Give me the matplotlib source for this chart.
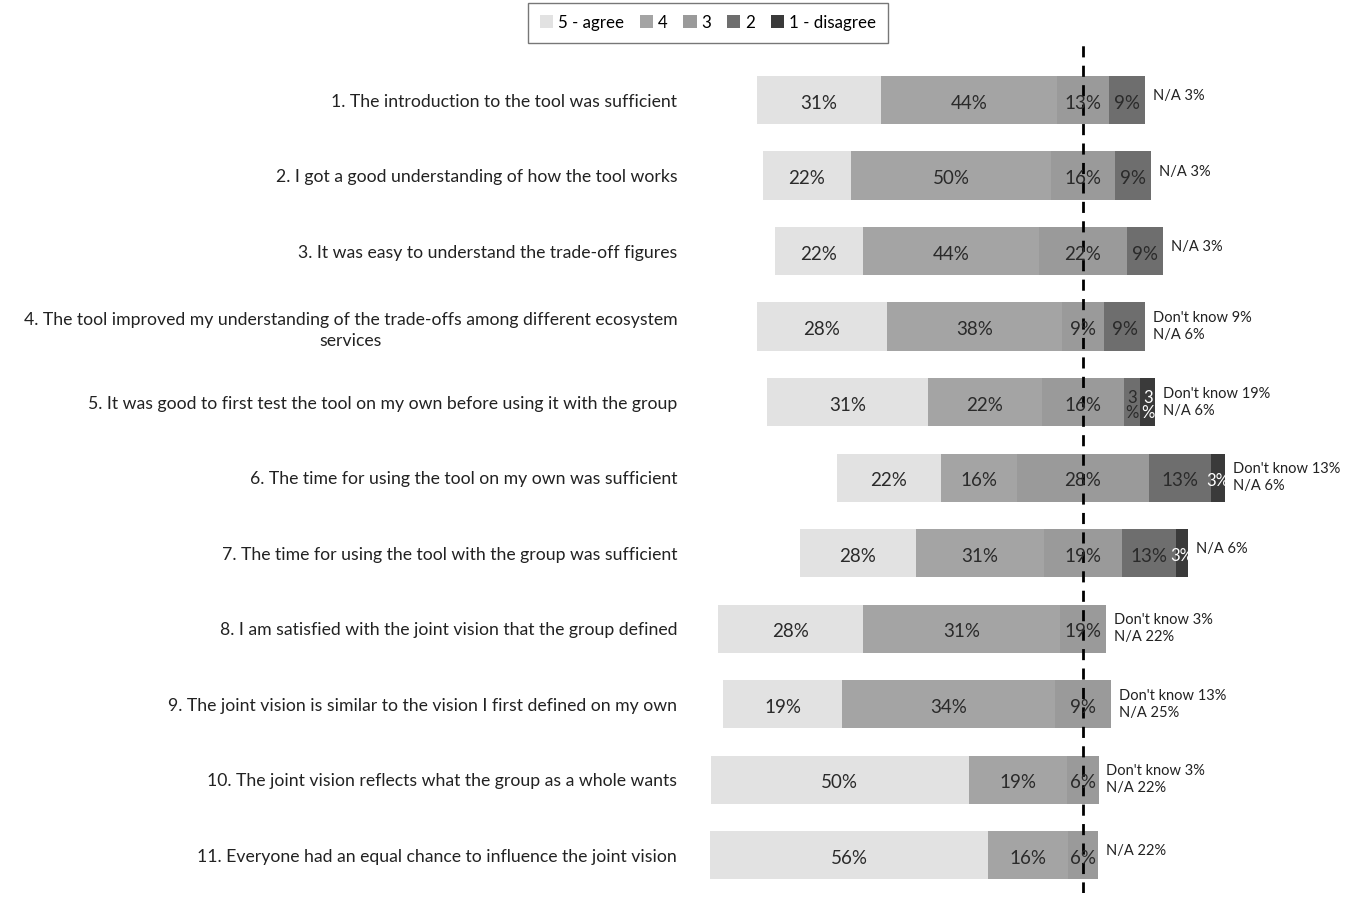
import numpy as np
import matplotlib
matplotlib.use("Agg")
import matplotlib.pyplot as plt
from matplotlib.patches import Patch

plt.rcParams['font.family'] = ['Lato', 'DejaVu Sans']

questions = [
    "1. The introduction to the tool was sufficient",
    "2. I got a good understanding of how the tool works",
    "3. It was easy to understand the trade-off figures",
    "4. The tool improved my understanding of the trade-offs among different ecosystem\nservices",
    "5. It was good to first test the tool on my own before using it with the group",
    "6. The time for using the tool on my own was sufficient",
    "7. The time for using the tool with the group was sufficient",
    "8. I am satisfied with the joint vision that the group defined",
    "9. The joint vision is similar to the vision I first defined on my own",
    "10. The joint vision reflects what the group as a whole wants",
    "11. Everyone had an equal chance to influence the joint vision",
]

# answer shares (% of all respondents), as drawn in the bars
agree5 = [31, 22, 22, 28, 31, 22, 28, 28, 19, 50, 56]
agree4 = [44, 50, 44, 38, 22, 16, 31, 38, 34, 19, 16]
neutral3 = [13, 16, 22, 9, 16, 28, 19, 9, 9, 6, 6]
disagree2 = [9, 9, 9, 9, 3, 13, 13, 0, 0, 0, 0]
disagree1 = [0, 0, 0, 0, 3, 3, 3, 0, 0, 0, 0]
dont_know = [0, 0, 0, 9, 19, 13, 0, 3, 13, 3, 0]
not_app = [3, 3, 3, 6, 6, 6, 6, 22, 25, 22, 22]

# the printed labels of item 8 differ from its bar lengths
label_fix = {(7, 1): "31%", (7, 2): "19%"}

cats = ["5 - agree", "4", "3", "2", "1 - disagree"]
colors = ["#e2e2e2", "#a4a4a4", "#9a9a9a", "#6e6e6e", "#3a3a3a"]
txtcol = ["#2a2a2a", "#2a2a2a", "#2a2a2a", "#2a2a2a", "#ffffff"]

data = np.array([agree5, agree4, neutral3, disagree2, disagree1], dtype=float).T
shares = data / data.sum(axis=1, keepdims=True) * 100

fig = plt.figure(figsize=(13.56, 8.99), dpi=100)
ax = fig.add_axes([705 / 1356, 6 / 899, 651 / 1356, 848 / 899])

y = np.arange(len(questions))
for i in range(len(questions)):
    left = -(shares[i, 0] + shares[i, 1] + shares[i, 2] / 2)
    for j in range(5):
        w = shares[i, j]
        if w <= 0:
            continue
        ax.barh(y[i], w, left=left, height=0.64, color=colors[j], edgecolor='none')
        lab = label_fix.get((i, j), "%d%%" % data[i, j])
        if w < 5:
            lab = lab.replace("%", "\n%") if i == 4 else lab
            fs = 12
        else:
            fs = 13.5
        ax.text(left + w / 2, y[i] + 0.04, lab, ha='center', va='center',
                fontsize=fs, color=txtcol[j], linespacing=0.9)
        left += w
    note = []
    if dont_know[i]:
        note.append("Don't know %d%%" % dont_know[i])
    note.append("N/A %d%%" % not_app[i])
    ax.text(left + 2, y[i] - (0.05 if len(note) == 1 else 0), "\n".join(note),
            ha='left', va='center', fontsize=10.5, color='#222222', linespacing=1.3)

ax.axvline(0, color='black', lw=2, ls=(0, (4, 3)))

ax.set_xlim(-(1083 - 705) / 3.88, (1356 - 1083) / 3.88)
ax.set_ylim(10.5, -0.73)
ax.set_yticks(y)
ax.set_yticklabels(questions, fontsize=12.7, color='#222222', multialignment='center',
                   linespacing=1.4)
ax.tick_params(axis='y', length=0, pad=20)
ax.set_xticks([])
for s in ax.spines.values():
    s.set_visible(False)

handles = [Patch(facecolor=c, edgecolor='none', label=l) for c, l in zip(colors, cats)]
leg = fig.legend(handles=handles, loc='upper center', bbox_to_anchor=(708 / 1356, 1 - 3 / 899),
                 ncol=5, fontsize=12.2, frameon=True, fancybox=False, handlelength=0.8,
                 handleheight=0.8, handletextpad=0.3, columnspacing=0.9, borderpad=0.7,
                 borderaxespad=0)
leg.get_frame().set_edgecolor('#555555')
leg.get_frame().set_linewidth(1)

fig.savefig("out.png", dpi=100)
